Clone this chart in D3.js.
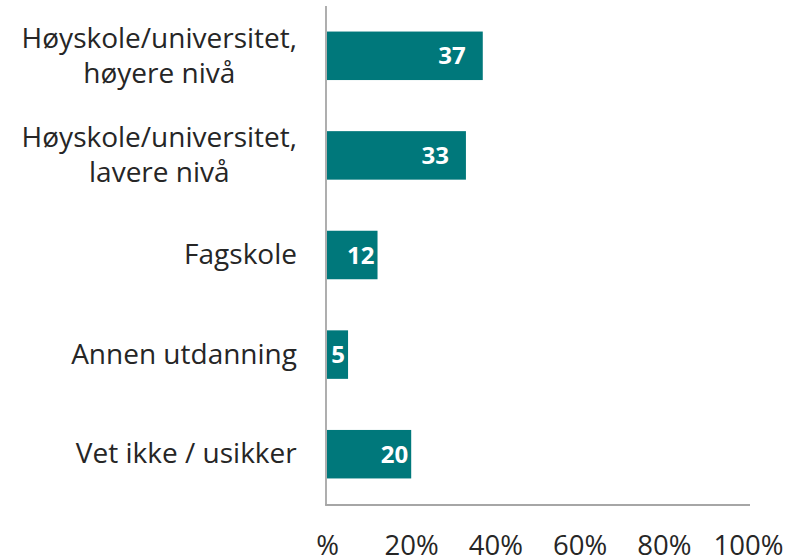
<!DOCTYPE html>
<html>
<head>
<meta charset="utf-8">
<script src="https://cdn.jsdelivr.net/npm/d3@7"></script>
<style>
  html, body { margin: 0; padding: 0; background: #fff; }
  svg text { font-family: "Open Sans", "Noto Sans", sans-serif; }
</style>
</head>
<body>
<div id="chart"></div>
<script>
// categories, each line of a wrapped label is its own entry
var categories = [
    ["Høyskole/universitet,", "høyere nivå"],
    ["Høyskole/universitet,", "lavere nivå"],
    ["Fagskole"],
    ["Annen utdanning"],
    ["Vet ikke / usikker"]
];
var values = [37, 33, 12, 5, 20];
var tickValues = [0, 20, 40, 60, 80, 100];
var tickLabels = ["%", "20%", "40%", "60%", "80%", "100%"];

var width = 799, height = 557;
var barColor = "#00787b";
var textColor = "#262626";
var axisColor = "#a6a6a6";

var svg = d3.select("#chart").append("svg")
    .attr("width", width)
    .attr("height", height);

var x = d3.scaleLinear()
    .domain([0, 100])
    .range([327, 748]);

var y = d3.scaleBand()
    .domain(d3.range(values.length))
    .range([6, 504])
    .paddingInner(0.513)
    .paddingOuter(0.2565);

// bars
svg.append("g")
    .selectAll("rect")
    .data(values)
    .enter().append("rect")
    .attr("x", x(0))
    .attr("y", function(d, i) { return y(i); })
    .attr("width", function(d) { return x(d) - x(0); })
    .attr("height", y.bandwidth())
    .attr("fill", barColor);

// value labels inside the bar ends
svg.append("g")
    .selectAll("text")
    .data(values)
    .enter().append("text")
    .attr("x", function(d) { return x(d) - (d > 30 ? 17 : 3); })
    .attr("y", function(d, i) { return y(i) + y.bandwidth() / 2; })
    .attr("dy", "0.36em")
    .attr("text-anchor", "end")
    .attr("font-size", 24)
    .attr("font-weight", "bold")
    .attr("fill", "#fff")
    .text(function(d) { return d; });

// category labels: wrapped labels are centred on their widest line, right edge at 297
var lineH = 35;
var catG = svg.append("g").attr("fill", textColor).attr("font-size", 28);
categories.forEach(function(lines, i) {
    var cy = y(i) + y.bandwidth() / 2;
    var t = catG.append("text").attr("text-anchor", "middle");
    lines.forEach(function(s, j) {
        t.append("tspan")
            .attr("x", 0)
            .attr("y", cy + (j - (lines.length - 1) / 2) * lineH)
            .attr("dy", "0.33em")
            .text(s);
    });
    var w = t.node().getBBox().width;
    t.selectAll("tspan").attr("x", 297 - w / 2);
});

// axis lines (left and bottom)
svg.append("line")
    .attr("x1", x(0) - 1).attr("x2", x(0) - 1)
    .attr("y1", 6).attr("y2", 505)
    .attr("stroke", axisColor).attr("stroke-width", 1.8);
svg.append("line")
    .attr("x1", x(0) - 1.9).attr("x2", 750)
    .attr("y1", 505).attr("y2", 505)
    .attr("stroke", axisColor).attr("stroke-width", 1.8);

// x tick labels
var xAxis = d3.axisBottom(x)
    .tickValues(tickValues)
    .tickSize(0)
    .tickPadding(0)
    .tickFormat(function(d, i) { return tickLabels[i]; });

var axisG = svg.append("g")
    .attr("transform", "translate(0,535)")
    .call(xAxis);
axisG.select(".domain").remove();
axisG.selectAll("text")
    .attr("dy", "0.71em")
    .attr("fill", textColor)
    .attr("font-size", 27.5)
    .style("font-family", "'Open Sans', 'Noto Sans', sans-serif");
</script>
</body>
</html>
